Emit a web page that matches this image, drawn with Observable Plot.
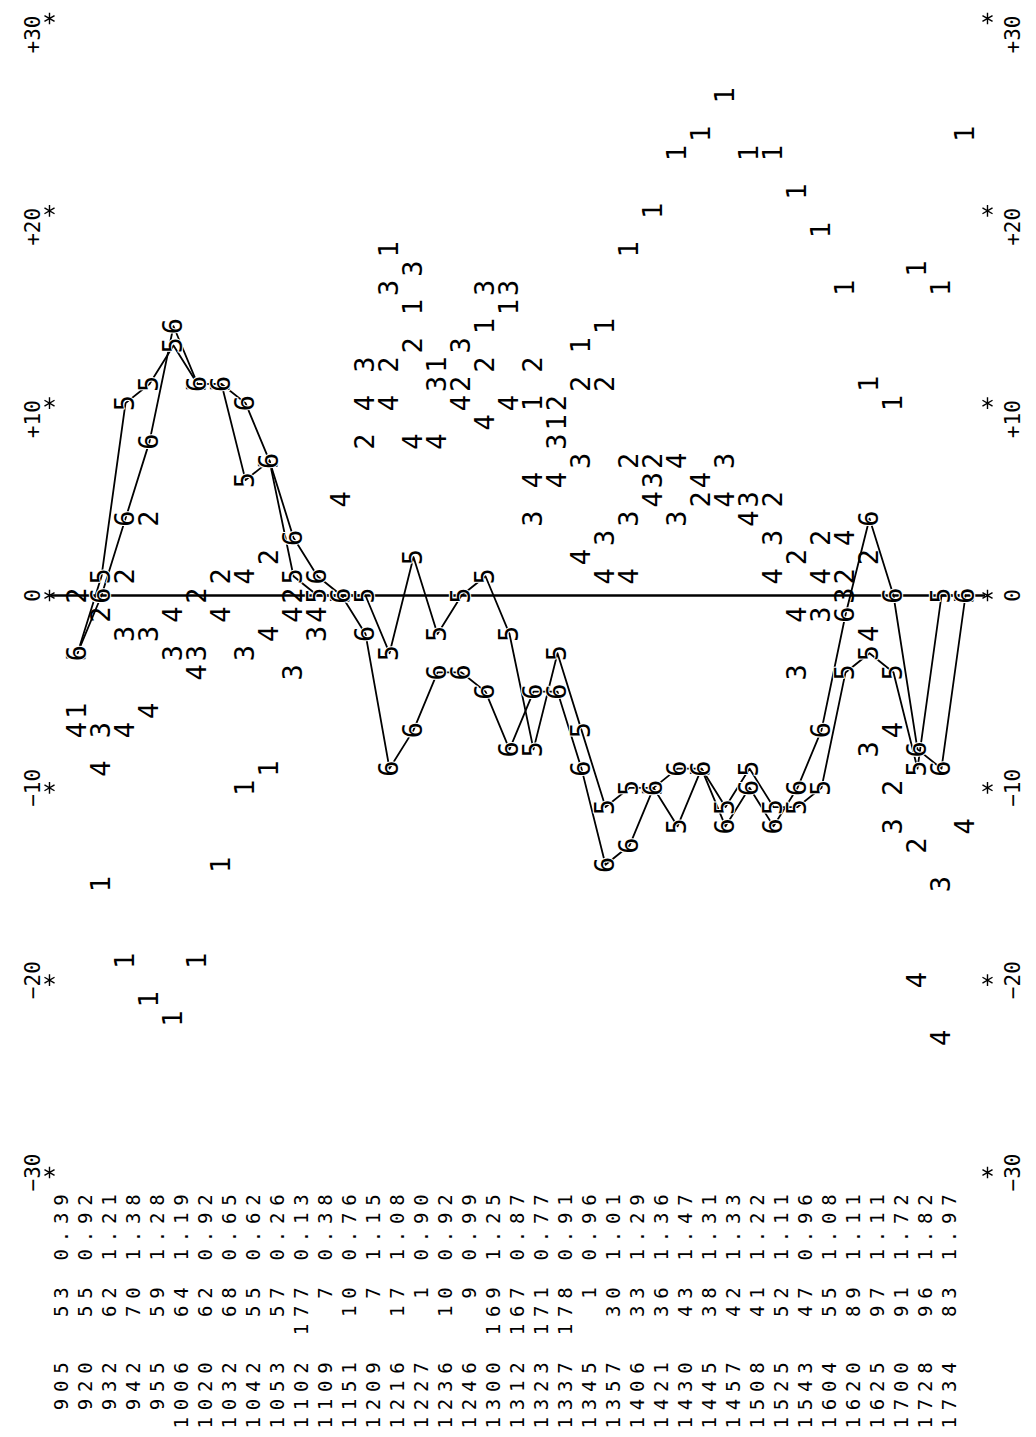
<!DOCTYPE html>
<html><head><meta charset="utf-8">
<script src="https://cdn.jsdelivr.net/npm/d3@7"></script>
<script src="https://cdn.jsdelivr.net/npm/@observablehq/plot@0.6"></script>
<style>
html,body{margin:0;padding:0;background:#fff;}
#chart svg{display:block;background:#fff;}
g[font-family="DejaVu Sans Mono, monospace"] text{letter-spacing:6.8px;}
</style></head><body><div id="chart"></div>
<script>
// Row labels of the print-out (one per printed line, i.e. one per column of the rotated chart)
const times = [905,920,932,942,955,1006,1020,1032,1042,1053,1102,1109,1151,1209,1216,1227,1236,1246,1300,1312,1323,1337,1345,1357,1406,1421,1430,1445,1457,1508,1525,1543,1604,1620,1625,1700,1728,1734];
const rates = ["0.39","0.92","1.21","1.38","1.28","1.19","0.92","0.65","0.62","0.26","0.13","0.38","0.76","1.15","1.08","0.90","0.92","0.99","1.25","0.87","0.77","0.91","0.96","1.01","1.29","1.36","1.47","1.31","1.33","1.22","1.11","0.96","1.08","1.11","1.11","1.72","1.82","1.97"];
const counts = ["53","55","62","70","59","64","62","68","55","57","177","7","10","7","17","1","10","9","169","167","171","178","1","30","33","36","43","38","42","41","52","47","55","89","97","91","96","83"];
// Plotted series (symbols 1..6), value per line, null = not printed
const s1 = [-6,-15,-19,-21,-22,-19,-14,-10,-9,null,null,null,null,18,15,12,null,14,15,10,9,13,14,18,20,23,24,26,23,23,21,19,16,11,10,17,16,24];
const s2 = [0,-1,1,4,null,0,1,null,2,0,null,null,8,12,13,null,11,12,null,12,10,11,11,7,7,null,5,null,null,5,2,3,1,2,-10,-13,null,null];
const s3 = [null,-7,-2,-2,-3,-3,null,-3,null,-4,-2,null,12,16,17,11,13,16,16,4,8,7,3,4,6,4,null,7,5,3,-4,-1,0,-8,-12,null,-15,null];
const s4 = [-7,-9,-7,-6,-1,-4,-1,1,-2,-1,-1,5,10,10,8,8,10,9,10,6,6,2,1,1,5,7,6,5,4,1,-1,1,3,-2,-7,-20,-23,-12];
const s5 = [-3,1,10,11,13,11,11,6,7,1,0,0,0,-3,2,-2,0,1,-2,-8,-3,-7,-11,-10,-10,-12,-9,-11,-9,-11,-11,-10,-4,-3,-4,-9,0,0];
const s6 = [-3,0,4,8,14,11,11,10,7,3,1,0,-2,-9,-7,-4,-4,-5,-8,-5,-5,-9,-14,-13,-10,-9,-9,-12,-10,-12,-10,-7,-1,4,0,-8,-9,0];
const ticks = [-30,-20,-10,0,10,20,30];
const tickLabels = ["\u221230","\u221220","\u221210","0","+10","+20","+30"];

const idx = d3.range(times.length);
const series = [s1,s2,s3,s4,s5,s6];
const pts = k => idx.filter(i => series[k][i] != null).map(i => ({i, v: series[k][i], s: String(k + 1)}));
const small = [0,1,2,3].flatMap(pts);
const p5 = pts(4), p6 = pts(5);
const rows = idx.map(i => ({i, t: String(times[i]), r: rates[i], c: counts[i]}));
const tk = ticks.map((v, j) => ({v, label: tickLabels[j], pos: v > 0}));

const glyphFont = "DejaVu Sans Mono";
const tableFont = "DejaVu Sans Mono, monospace";
const lab = {rotate: -90, textAnchor: "middle", lineAnchor: "middle", fontSize: 21, fontFamily: glyphFont, fill: "#000"};
const gl = {x: "i", y: "v", text: "s", rotate: -90, fontSize: 27, fontFamily: glyphFont, fill: "#000"};
const tb = {x: "i", frameAnchor: "bottom", dx: -16, rotate: -90, textAnchor: "end", lineAnchor: "middle", fontSize: 19, fontFamily: tableFont, fill: "#000"};
const chart = Plot.plot({
  width: 1036, height: 1437,
  marginLeft: 77, marginRight: 71, marginTop: 18, marginBottom: 265,
  x: {type: "linear", domain: [0, times.length - 1], axis: null},
  y: {type: "linear", domain: [-30, 30], axis: null},
  marks: [
    Plot.ruleY([0], {stroke: "#000", strokeWidth: 2.6, insetLeft: -26, insetRight: -20}),
    // axis asterisks and labels, both sides
    Plot.dot(tk, {y: "v", frameAnchor: "left", dx: -28, symbol: "asterisk", r: 5.5, stroke: "#000", strokeWidth: 1.4}),
    Plot.dot(tk, {y: "v", frameAnchor: "right", dx: 22, symbol: "asterisk", r: 5.5, stroke: "#000", strokeWidth: 1.4}),
    Plot.text(tk.filter(d => !d.pos), {...lab, y: "v", text: "label", frameAnchor: "left", dx: -44}),
    Plot.text(tk.filter(d => d.pos), {...lab, y: "v", text: "label", frameAnchor: "left", dx: -44, dy: 16}),
    Plot.text(tk.filter(d => !d.pos), {...lab, y: "v", text: "label", frameAnchor: "right", dx: 48}),
    Plot.text(tk.filter(d => d.pos), {...lab, y: "v", text: "label", frameAnchor: "right", dx: 48, dy: 16}),
    // symbols 1-4
    Plot.text(small, gl),
    // connected series 5 and 6
    Plot.line(p5, {x: "i", y: "v", stroke: "#000", strokeWidth: 1.8}),
    Plot.line(p6, {x: "i", y: "v", stroke: "#000", strokeWidth: 1.8}),
    Plot.text(p5, {...gl, stroke: "#fff", strokeWidth: 2, paintOrder: "stroke"}),
    Plot.text(p6, {...gl, stroke: "#fff", strokeWidth: 2, paintOrder: "stroke"}),
    // table of the print-out
    Plot.text(rows, {...tb, text: "r", dy: 15}),
    Plot.text(rows, {...tb, text: "c", dy: 108}),
    Plot.text(rows, {...tb, text: "t", dy: 183})
  ]
});
document.getElementById("chart").appendChild(chart);
</script></body></html>
